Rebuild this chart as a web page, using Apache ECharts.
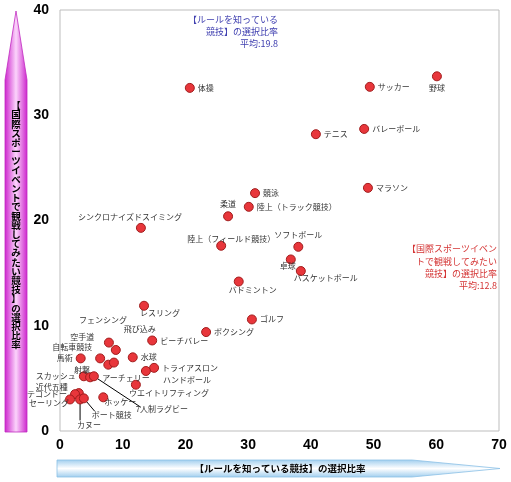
<!DOCTYPE html>
<html><head><meta charset="utf-8">
<script src="https://cdn.jsdelivr.net/npm/echarts@6/dist/echarts.min.js"></script>
<style>html,body{margin:0;padding:0;background:#fff}#c{width:511px;height:482px}</style>
</head><body><div id="c"></div>
<script>
const names = ['体操','サッカー','野球','テニス','バレーボール','マラソン','競泳','陸上（トラック競技）','柔道','シンクロナイズドスイミング','陸上（フィールド競技）','ソフトボール','卓球','バスケットボール','バドミントン','ゴルフ','ボクシング','レスリング','ビーチバレー','フェンシング','飛び込み','空手道','自転車競技','アーチェリー','馬術','水球','トライアスロン','ハンドボール','ウエイトリフティング','スカッシュ','射撃','7人制ラグビー','ホッケー','近代五種','テコンドー','セーリング','カヌー','ボート競技'];
const ruleKnown = [20.7,49.4,60.1,40.8,48.5,49.1,31.1,30.1,26.8,12.9,25.7,38.0,36.8,38.4,28.5,30.6,23.3,13.4,14.7,7.8,8.9,6.4,7.7,8.6,3.3,11.6,15.0,13.7,12.1,3.8,4.8,5.4,6.9,3.0,2.4,1.6,3.2,3.8];
const wantToWatch = [32.6,32.7,33.7,28.2,28.7,23.1,22.6,21.3,20.4,19.3,17.6,17.5,16.3,15.2,14.2,10.6,9.4,11.9,8.6,8.4,7.7,6.9,6.3,6.5,6.9,7.0,6.0,5.7,4.4,5.2,5.1,5.2,3.2,3.6,3.5,3.0,3.0,3.1];
const xTicks = [0,10,20,30,40,50,60,70];
const yTicks = [0,10,20,30,40];
const xAxisTitle = '【ルールを知っている競技】の選択比率';
const yAxisTitle = '【国際スポーツイベントで観戦してみたい競技】の選択比率';
const avgXLines = ['【ルールを知っている','競技】の選択比率','平均:19.8'];
const avgYLines = ['【国際スポーツイベン','トで観戦してみたい','競技】の選択比率','平均:12.8'];

// label placement (layout only)
const labelPlace = {
 '体操':'right','サッカー':'right','テニス':'right','バレーボール':'right','マラソン':'right','競泳':'right',
 '陸上（トラック競技）':'right','ゴルフ':'right','ボクシング':'right','ビーチバレー':'right','水球':'right','トライアスロン':'right',
 '野球':'bottom','卓球':[-3,7],'柔道':'top','ソフトボール':'top',
 '馬術':'left','スカッシュ':'left','テコンドー':'left','セーリング':[-21,4],
 'シンクロナイズドスイミング':[-11,-11],'陸上（フィールド競技）':[10,-7],'バスケットボール':[25,7],'バドミントン':[14,8],
 'レスリング':[16,7],'ハンドボール':[41,9],'ウエイトリフティング':[33,8],'射撃':[-8,-7],'7人制ラグビー':[68,33],
 'ホッケー':[17,5],'近代五種':[-27,-6],'カヌー':[9,26],'ボート競技':[28,17],'フェンシング':[-6,-23],
 '飛び込み':[24,-21],'空手道':[-18,-21],'自転車競技':[-36,-18],'アーチェリー':[12,15]
};
const leaders = {'7人制ラグビー':[47,31],'ボート競技':[11,13],'カヌー':[0,21]};

const font = '"Noto Sans CJK JP","Noto Sans",sans-serif';
const data = names.map((n,i)=>{
  const p = labelPlace[n] || 'right';
  const lab = {show:true, formatter:n, color:'#333', fontSize:8, fontFamily:font, textBorderWidth:0};
  if (typeof p === 'string') { lab.position = p; lab.distance = 3; }
  else { lab.position = 'inside'; lab.offset = p; lab.align='center'; lab.verticalAlign='middle'; }
  return {name:n, value:[ruleKnown[i], wantToWatch[i]], label:lab};
});

const chart = echarts.init(document.getElementById('c'));
chart.setOption({
  animation:false,
  grid:{left:60,right:12,top:10,bottom:51,show:true,borderColor:'#bdbdbd',borderWidth:1},
  xAxis:{type:'value',min:0,max:70,interval:10,splitLine:{show:false},axisLine:{show:false},axisTick:{show:false},
    axisLabel:{color:'#000',fontSize:14,fontWeight:'bold',fontFamily:'"Liberation Sans",Arial,sans-serif',margin:7,
      formatter:v=>xTicks.includes(v)?String(v):''}},
  yAxis:{type:'value',min:0,max:40,interval:10,splitLine:{show:false},axisLine:{show:false},axisTick:{show:false},
    axisLabel:{color:'#000',fontSize:14,fontWeight:'bold',fontFamily:'"Liberation Sans",Arial,sans-serif',margin:11,
      formatter:v=>yTicks.includes(v)?String(v):''}},
  series:[{type:'scatter',symbol:'circle',symbolSize:9,
    itemStyle:{color:'#e8363b',borderColor:'#a01c1c',borderWidth:1,opacity:1},
    data:data, z:3}]
});

const gfx = [];
// y axis arrow
gfx.push({type:'polygon',shape:{points:[[16,11],[27,80],[27,432],[5,432],[5,80]]},
  style:{fill:new echarts.graphic.LinearGradient(0,0,1,0,[{offset:0,color:'#cc22cc'},{offset:0.5,color:'#fbd4fb'},{offset:1,color:'#cc22cc'}]),
  stroke:'#c02cc0',lineWidth:0.8}, z:1});
gfx.push({type:'text',x:16,y:101,style:{text:yAxisTitle.split('').join('\n'),fill:'#000',fontSize:9.5,lineHeight:9.2,
  fontFamily:font,fontWeight:'bold',align:'center',verticalAlign:'top'},z:2});
// x axis arrow
gfx.push({type:'polygon',shape:{points:[[57,460],[412,460],[500,468.5],[412,477],[57,477]]},
  style:{fill:new echarts.graphic.LinearGradient(0,0,0,1,[{offset:0,color:'#9fcdee'},{offset:0.5,color:'#ffffff'},{offset:1,color:'#9fcdee'}]),
  stroke:'#8cc0e6',lineWidth:0.8}, z:1});
gfx.push({type:'text',x:280,y:468.5,style:{text:xAxisTitle,fill:'#000',fontSize:9.5,fontFamily:font,fontWeight:'bold',align:'center',verticalAlign:'middle'},z:2});
// average annotations
avgXLines.forEach((t,i)=>gfx.push({type:'text',x:278,y:20+i*11.8,style:{text:t,fill:'#4040b0',fontSize:9,fontFamily:font,align:'right',verticalAlign:'middle'},z:2}));
avgYLines.forEach((t,i)=>gfx.push({type:'text',x:497,y:249+i*12.3,style:{text:t,fill:'#d43434',fontSize:9,fontFamily:font,align:'right',verticalAlign:'middle'},z:2}));
// leader lines
Object.keys(leaders).forEach(n=>{
  const i = names.indexOf(n);
  const p = chart.convertToPixel({seriesIndex:0},[ruleKnown[i],wantToWatch[i]]);
  const d = leaders[n];
  gfx.push({type:'line',shape:{x1:p[0],y1:p[1],x2:p[0]+d[0],y2:p[1]+d[1]},style:{stroke:'#000',lineWidth:1},z:1});
});
chart.setOption({graphic:gfx});
</script>
</body></html>
